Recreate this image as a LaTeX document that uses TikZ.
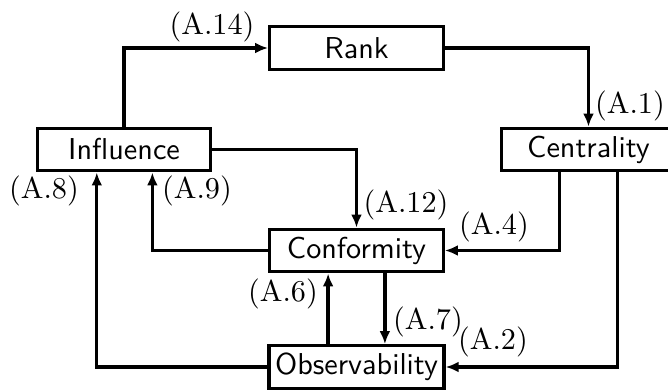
\documentclass[tikz,border=0pt]{standalone}
\usepackage{amsmath}
\usepackage{tikz}
\usetikzlibrary{arrows.meta}
\tikzset{
    var-box/.style = {draw, thick, line width=1.1pt, rectangle, minimum width=57.4pt, minimum height=14.1pt, inner sep=2pt, font=\sffamily},
    eq-label/.style = {inner sep=0pt},
    flow/.style = {line width=1.1pt, -{Latex[length=4.3pt,width=3.6pt]}},
}

\begin{document}
\begin{tikzpicture}[x=0.331pt, y=-0.331pt]
\useasboundingbox (0,0) rectangle (668,389);
% variables
\node [var-box] (rank) at (356.5,48) {Rank};
\node [var-box] (influence) at (124,149.5) {Influence};
\node [var-box] (centrality) at (588.5,149.5) {Centrality};
\node [var-box] (conformity) at (356.5,250.5) {Conformity};
\node [var-box] (observ) at (356.5,367) {Observability};
% links
\draw [flow] (influence.north) |- (rank.west);
\draw [flow] (rank.east) -| (centrality.north);
\draw [flow] (influence.east) -| (conformity.north);
\draw [flow] ([xshift=-9.6pt]centrality.south) |- (conformity.east);
\draw [flow] ([xshift=9.6pt]centrality.south) |- (observ.east);
\draw [flow] ([xshift=9.4pt]conformity.south) -- ([xshift=9.4pt]observ.north);
\draw [flow] ([xshift=-9.4pt]observ.north) -- ([xshift=-9.4pt]conformity.south);
\draw [flow] (conformity.west) -| ([xshift=9.4pt]influence.south);
\draw [flow] (observ.west) -| ([xshift=-9pt]influence.south);
% equation numbers
\node [eq-label] (eq14) at (212,27) {(A.14)};
\node [eq-label] (eq1) at (630,106) {(A.1)};
\node [eq-label] (eq12) at (406,205) {(A.12)};
\node [eq-label] (eq4) at (494,227) {(A.4)};
\node [eq-label] (eq2) at (493,342) {(A.2)};
\node [eq-label] (eq7) at (428,322) {(A.7)};
\node [eq-label] (eq6) at (283,294) {(A.6)};
\node [eq-label] (eq9) at (197,191) {(A.9)};
\node [eq-label] (eq8) at (44,191) {(A.8)};
\end{tikzpicture}
\end{document}
